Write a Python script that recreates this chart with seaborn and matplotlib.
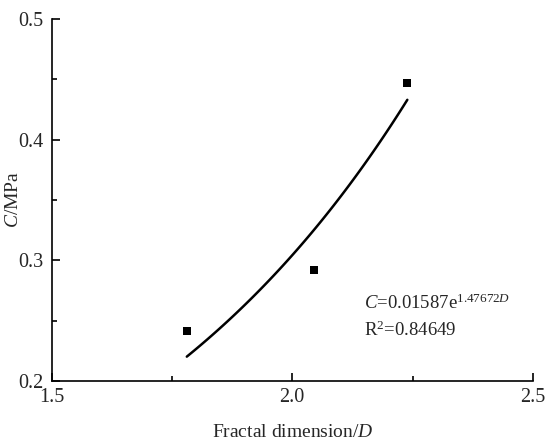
import matplotlib.pyplot as plt
import numpy as np
import pandas as pd
import seaborn as sns

sns.set_theme(style="ticks")
plt.rcParams["font.family"] = ["Liberation Serif", "DejaVu Serif"]
plt.rcParams["mathtext.fontset"] = "custom"
plt.rcParams["mathtext.rm"] = "Liberation Serif"
plt.rcParams["mathtext.it"] = "Liberation Serif:italic"

# measured points
fractal_d = [1.781, 2.046, 2.239]
cohesion = [0.2414, 0.292, 0.4467]

# exponential fit shown on the chart: C = a * exp(b * D)
fit_a = 0.01587
fit_b = 1.47672
r_squared = 0.84649

pts = pd.DataFrame({"D": fractal_d, "C": cohesion})
d_line = np.linspace(min(fractal_d), max(fractal_d), 100)
fit = pd.DataFrame({"D": d_line, "C": fit_a * np.exp(fit_b * d_line)})

fig = plt.figure(figsize=(5.5, 4.46), dpi=100)
ax = fig.add_axes([51.5 / 550, 1 - 381 / 446, (533 - 51.5) / 550, (381 - 19) / 446])

sns.lineplot(data=fit, x="D", y="C", color="black", linewidth=1.8, ax=ax)
sns.scatterplot(data=pts, x="D", y="C", marker="s", s=38, color="black",
                edgecolor="black", linewidth=0, ax=ax, zorder=3)

ax.set_xlim(1.5, 2.5)
ax.set_ylim(0.2, 0.5)
ax.set_xticks([1.5, 2.0, 2.5])
ax.set_yticks([0.2, 0.3, 0.4, 0.5])
ax.set_xticks([1.75, 2.25], minor=True)
ax.set_yticks([0.25, 0.35, 0.45], minor=True)
ax.tick_params(which="major", direction="in", length=6, width=1.2, labelsize=14.5, color="black")
ax.tick_params(which="minor", direction="in", length=3.5, width=1.2, color="black")
ax.tick_params(axis="x", pad=5)
ax.tick_params(axis="y", pad=6)

for s in ["top", "right"]:
    ax.spines[s].set_visible(False)
for s in ["left", "bottom"]:
    ax.spines[s].set_linewidth(1.2)
    ax.spines[s].set_color("black")

ax.set_xlabel("Fractal dimension/$\\mathit{D}$", fontsize=14, labelpad=12)
ax.set_ylabel("$\\mathit{C}$/MPa", fontsize=14)
ax.yaxis.set_label_coords(-0.062, 0.5)

ax.text(2.148, 0.264, f"$\\mathit{{C}}$={fit_a}e$^{{{fit_b}\\mathit{{D}}}}$",
        fontsize=13.5, va="center", ha="left")
ax.text(2.148, 0.242, f"R$^2$={r_squared}", fontsize=13.5, va="center", ha="left")

fig.savefig("out.png", dpi=100)
